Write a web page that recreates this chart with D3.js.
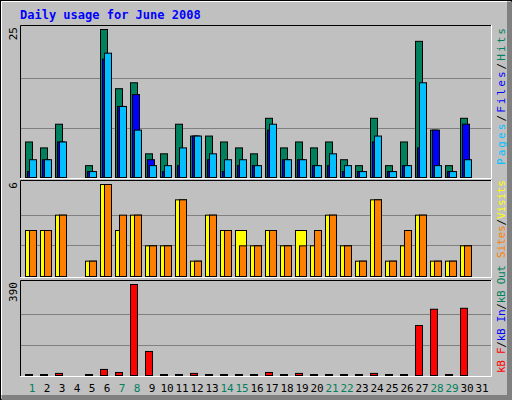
<!DOCTYPE html><html><head><meta charset="utf-8">
<script src="https://cdn.jsdelivr.net/npm/d3@7"></script>
<style>body{margin:0;background:#fff}</style></head><body>
<script>
const days = d3.range(1,32);
const weekend = [1,7,8,14,15,21,22,28,29];
const hits  = [6,5,9,0,2,25,15,16,4,4,9,7,7,6,5,4,10,5,6,5,6,3,2,10,2,6,23,8,2,10,0];
const files = [3,3,6,0,1,21,12,8,2,2,5,7,4,3,3,2,9,3,3,2,4,2,1,7,1,2,16,2,1,3,0];
const pages = [1,3,6,0,1,20,12,14,3,1,2,7,3,1,2,2,8,3,3,2,2,1,1,6,1,2,5,8,1,9,0];
const visits= [3,3,4,0,1,6,3,4,2,2,5,1,4,3,3,2,3,2,3,2,4,2,1,5,1,2,4,1,1,2,0];
const sites = [3,3,4,0,1,6,4,4,2,2,5,1,4,3,2,2,3,2,2,3,4,2,1,5,1,3,4,1,1,2,0];
const kbytes= [1,1,9,0,1,26,13,390,103,1,1,9,1,1,1,1,13,1,9,1,1,1,1,9,1,1,214,284,1,288,0];
const active = [1,1,1,0,1,1,1,1,1,1,1,1,1,1,1,1,1,1,1,1,1,1,1,1,1,1,1,1,1,1,0];

const W=512,H=400;
const svg=d3.select("body").append("svg").attr("width",W).attr("height",H).style("font-family","'DejaVu Sans Mono',monospace");
svg.append("rect").attr("width",W).attr("height",H).attr("fill","#c0c0c0");
svg.append("rect").attr("x",0.5).attr("y",0.5).attr("width",W-1).attr("height",H-1).attr("fill","none").attr("stroke","#000");
svg.append("path").attr("d",`M1.5,${H-2} V1.5 H${W-2}`).attr("stroke","#fff").attr("fill","none");
svg.append("path").attr("d",`M1.5,${H-2.5} H${W-2.5} V1.5`).attr("stroke","#808080").attr("stroke-width",5).attr("fill","none");
svg.append("text").attr("x",20).attr("y",19).attr("fill","#0000ff").attr("font-weight","bold").attr("font-size",12).text("Daily usage for June 2008");

const x=d3.scaleLinear().domain([1,31]).range([25,475]);
const X0=20,X1=491;
function panel(top,base,maxv,yTop,label,rlabels,rStart,rLen){
  svg.append("path").attr("d",`M${X0+0.5},${base+2} V${top+0.5} H${X1}`).attr("stroke","#000").attr("fill","none");
  svg.append("path").attr("d",`M${X0},${base+1.5} H${X1+0.5} V${top}`).attr("stroke","#fff").attr("fill","none");
  const y=d3.scaleLinear().domain([0,maxv]).range([base,yTop]);
  [1,2].forEach(k=>svg.append("line").attr("x1",X0+1).attr("x2",X1).attr("y1",Math.round(y(maxv*k/3))+0.5).attr("y2",Math.round(y(maxv*k/3))+0.5).attr("stroke","#808080"));
  svg.append("text").attr("transform",`translate(17,${top+2}) rotate(-90)`).attr("text-anchor","end").attr("font-size",11).text(label);
  const t=svg.append("text").attr("transform",`translate(505,${rStart}) rotate(-90)`).attr("font-size",11)
    .attr("textLength",rLen).attr("lengthAdjust","spacing");
  rlabels.forEach(([s,c])=>t.append("tspan").attr("fill",c).text(s));
  return y;
}
function bars(y,vals,off,w,col){
  svg.append("g").selectAll("rect").data(days.filter((d,i)=>active[i])).join("rect")
   .attr("x",d=>x(d)+off+0.5).attr("width",w)
   .attr("y",d=>Math.min(y(vals[d-1]),y.range()[0]-1)+0.5)
   .attr("height",d=>Math.max(1,y.range()[0]-y(vals[d-1])))
   .attr("fill",col).attr("stroke","#000");
}
const y1=panel(25,177,25,29,"25",[["Pages","#00c0ff"],["/","#000"],["Files","#0000ff"],["/","#000"],["Hits","#00805c"]],165,137);
bars(y1,hits,0,7,"#00805c");bars(y1,pages,2,7,"#0000ff");bars(y1,files,4,7,"#00c0ff");
const y2=panel(180,276,6,184,"6",[["Sites","#ff8000"],["/","#000"],["Visits","#ffff00"]],258,78);
bars(y2,visits,0,11,"#ffff00");bars(y2,sites,4,7,"#ff8000");
const y3=panel(280,375,390,284,"390",[["kB F","#ff0000"],["/","#000"],["kB In","#0000ff"],["/","#000"],["kB Out","#00805c"]],373,108);
bars(y3,kbytes,0,7,"#ff0000");
svg.append("g").selectAll("text").data(days).join("text").attr("x",d=>x(d)+7).attr("y",392).attr("text-anchor","middle").attr("font-size",11)
 .attr("fill",d=>weekend.includes(d)?"#00805c":"#000").text(d=>d);
</script></body></html>
